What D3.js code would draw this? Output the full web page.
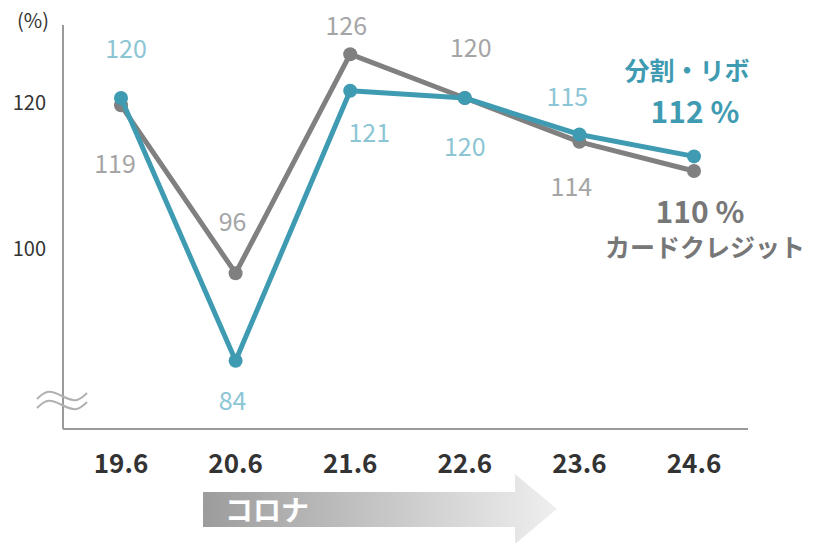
<!DOCTYPE html>
<html>
<head>
<meta charset="utf-8">
<script src="https://cdn.jsdelivr.net/npm/d3@7"></script>
<style>
  html, body { margin: 0; padding: 0; background: #fff; }
  svg { display: block; font-family: "Noto Sans CJK JP", "Noto Sans", sans-serif; }
</style>
</head>
<body>
<svg id="chart" width="813" height="543"></svg>
<script>
// Periods on the x axis
const periods = ["19.6", "20.6", "21.6", "22.6", "23.6", "24.6"];
// Index values (%) for each series
const revolving = [120, 84, 121, 120, 115, 112];   // 分割・リボ
const credit = [119, 96, 126, 120, 114, 110];      // カードクレジット
// Y axis tick values
const yTicks = [100, 120];

// Label placement: offset of each value label from its point (dx, dy to baseline)
const revolvingLabelOffset = [[5, -40], [-3, 49], [19, 51], [0, 58], [-12, -29], null];
const creditLabelOffset = [[-6, 68], [-3, -42], [-4, -19], [6, -41], [-8, 54], null];

const svg = d3.select("#chart");

const x = d3.scalePoint().domain(periods).range([121, 694]);
const y = d3.scaleLinear().domain([80, 130]).range([390, 25]);

const axisColor = "#9a9a9a";
const blue = "#3f9bb2";
const blueLabel = "#8cc6d5";
const gray = "#808080";
const grayLabel = "#a5a5a5";

// Axes frame
svg.append("line").attr("x1", 63).attr("x2", 63).attr("y1", 25).attr("y2", 429)
  .attr("stroke", axisColor).attr("stroke-width", 2);
svg.append("line").attr("x1", 63).attr("x2", 748).attr("y1", 429).attr("y2", 429)
  .attr("stroke", axisColor).attr("stroke-width", 2);

// Axis break mark
const wave = d3.line().curve(d3.curveBasis);
[0, 9].forEach(off => {
  const pts = [[37, 399 + off], [48, 389 + off], [62, 396 + off], [76, 403 + off], [87, 393 + off]];
  svg.append("path").attr("d", wave(pts)).attr("fill", "none")
    .attr("stroke", "#b0b0b0").attr("stroke-width", 2);
});

// Y tick labels
svg.append("g").selectAll("text").data(yTicks).join("text")
  .attr("x", 46).attr("y", d => y(d) + 12)
  .attr("text-anchor", "end").attr("font-size", 20).attr("fill", "#333")
  .text(d => d);
svg.append("text").attr("x", 33).attr("y", 28).attr("text-anchor", "middle")
  .attr("font-size", 20).attr("fill", "#333").text("(%)");

// X tick labels
svg.append("g").selectAll("text").data(periods).join("text")
  .attr("x", d => x(d)).attr("y", 473).attr("text-anchor", "middle")
  .attr("font-size", 26).attr("font-weight", 700).attr("fill", "#333")
  .text(d => d);

// Series lines and points
const line = d3.line().x((d, i) => x(periods[i])).y(d => y(d));
function drawSeries(values, color) {
  svg.append("path").attr("d", line(values)).attr("fill", "none")
    .attr("stroke", color).attr("stroke-width", 5).attr("stroke-linejoin", "round");
  svg.append("g").selectAll("circle").data(values).join("circle")
    .attr("cx", (d, i) => x(periods[i])).attr("cy", d => y(d)).attr("r", 7)
    .attr("fill", color);
}
drawSeries(credit, gray);
drawSeries(revolving, blue);

// Value labels
function drawLabels(values, offsets, color) {
  svg.append("g").selectAll("text").data(values.map((v, i) => ({ v, i })).filter(d => offsets[d.i]))
    .join("text")
    .attr("x", d => x(periods[d.i]) + offsets[d.i][0])
    .attr("y", d => y(d.v) + offsets[d.i][1])
    .attr("text-anchor", "middle").attr("font-size", 25).attr("fill", color)
    .text(d => d.v);
}
drawLabels(credit, creditLabelOffset, grayLabel);
drawLabels(revolving, revolvingLabelOffset, blueLabel);

// End-of-series labels
const lastX = x(periods[periods.length - 1]);
svg.append("text").attr("x", lastX - 7).attr("y", 80).attr("text-anchor", "middle")
  .attr("font-size", 25).attr("font-weight", 700).attr("fill", blue).text("分割・リボ");
svg.append("text").attr("x", lastX + 1).attr("y", y(revolving[5]) - 33).attr("text-anchor", "middle")
  .attr("font-size", 30).attr("font-weight", 700).attr("fill", blue).text(revolving[5] + " %");
svg.append("text").attr("x", lastX + 6).attr("y", y(credit[5]) + 52).attr("text-anchor", "middle")
  .attr("font-size", 30).attr("font-weight", 700).attr("fill", "#777").text(credit[5] + " %");
svg.append("text").attr("x", lastX + 11).attr("y", 257).attr("text-anchor", "middle")
  .attr("font-size", 25).attr("font-weight", 700).attr("fill", "#777").text("カードクレジット");

// COVID period arrow
const defs = svg.append("defs");
const grad = defs.append("linearGradient").attr("id", "arrowGrad")
  .attr("x1", "0%").attr("x2", "100%").attr("y1", "0%").attr("y2", "0%");
grad.append("stop").attr("offset", "0%").attr("stop-color", "#9c9c9c");
grad.append("stop").attr("offset", "100%").attr("stop-color", "#efefef");
const arrowPts = [[203, 492], [515, 492], [515, 474], [557, 509], [515, 544], [515, 527], [203, 527]];
svg.append("path").attr("d", d3.line()(arrowPts) + "Z").attr("fill", "url(#arrowGrad)");
svg.append("text").attr("x", 225).attr("y", 521).attr("font-size", 28).attr("font-weight", 700)
  .attr("fill", "#fff").text("コロナ");
</script>
</body>
</html>
